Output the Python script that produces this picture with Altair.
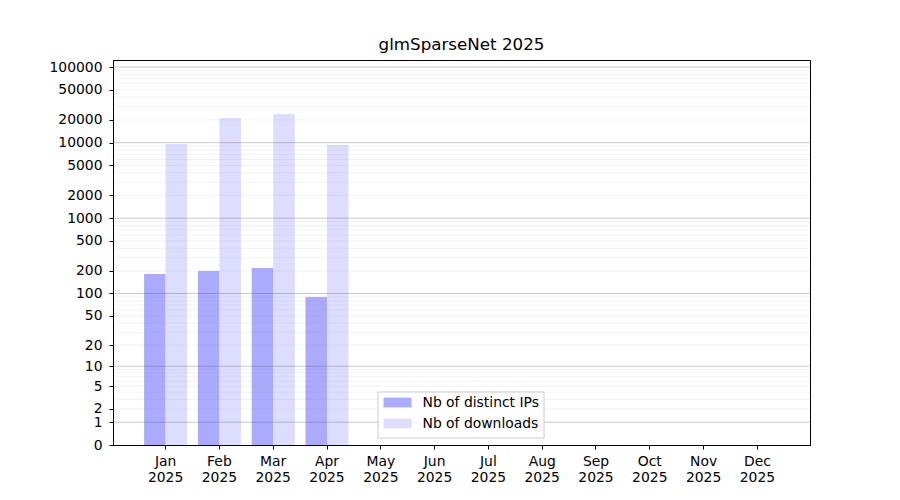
import altair as alt
import pandas as pd

months = ["Jan", "Feb", "Mar", "Apr", "May", "Jun", "Jul", "Aug", "Sep", "Oct", "Nov", "Dec"]
data_months = ["Jan", "Feb", "Mar", "Apr"]
ips = [182, 199, 218, 90]
downloads = [9580, 21150, 23900, 9300]
series = ["Nb of distinct IPs", "Nb of downloads"]
colors = ["#aaaaff", "#ddddff"]
y_ticks = [0, 1, 2, 5, 10, 20, 50, 100, 200, 500, 1000, 2000, 5000, 10000, 20000, 50000, 100000]
major_grid = [1, 10, 100, 1000, 10000, 100000]
minor_grid = [k * 10 ** d for d in range(0, 5) for k in range(2, 10)]

rows = []
for m, a, b in zip(data_months, ips, downloads):
    rows.append({"month": m, "series": series[0], "value": a})
    rows.append({"month": m, "series": series[1], "value": b})
df = pd.DataFrame(rows)

yscale = alt.Scale(type="symlog", constant=1, domain=[0, 124000], nice=False, zero=True)
y_axis = alt.Axis(
    title=None,
    values=y_ticks,
    format="d",
    grid=False,
    labelFontSize=13.9,
    labelColor="black",
    labelOverlap=False,
    tickSize=4,
    tickColor="black",
    domainColor="black",
    labelPadding=7,
)

bars = alt.Chart(df).mark_bar(opacity=1).encode(
    x=alt.X(
        "month:N",
        sort=months,
        scale=alt.Scale(domain=months, paddingInner=0.2, paddingOuter=0.578),
        axis=alt.Axis(
            title=None,
            labelAngle=0,
            labelExpr="[datum.label, '2025']",
            labelFontSize=13.9,
            labelColor="black",
            labelPadding=5,
            labelOverlap=False,
            tickSize=4,
            tickColor="black",
            domainColor="black",
            labelLineHeight=16,
        ),
    ),
    xOffset=alt.XOffset("series:N", sort=series, scale=alt.Scale(domain=series, paddingInner=0, paddingOuter=0)),
    y=alt.Y("value:Q", scale=yscale, axis=y_axis),
    color=alt.Color(
        "series:N",
        sort=series,
        scale=alt.Scale(domain=series, range=colors),
        legend=alt.Legend(
            title=None,
            orient="none",
            legendX=271.5,
            legendY=329.5,
            symbolType="M-2,-0.7H2V0.7H-2Z",
            symbolSize=196,
            symbolStrokeWidth=0,
            symbolOpacity=1,
            labelFontSize=13.9,
            labelColor="black",
            rowPadding=7,
            padding=6,
            labelOffset=18,
        ),
    ),
)

minor = alt.Chart(pd.DataFrame({"v": minor_grid})).mark_rule(
    color="#888888", strokeWidth=0.8, opacity=0.15
).encode(y=alt.Y("v:Q", scale=yscale, axis=y_axis))

major = alt.Chart(pd.DataFrame({"v": major_grid})).mark_rule(
    color="#555555", strokeWidth=0.8, opacity=0.4
).encode(y=alt.Y("v:Q", scale=yscale, axis=y_axis))

one = pd.DataFrame({"a": [0]})
frame_fill = alt.Chart(one).mark_bar(color="white", opacity=0.85).encode(
    x=alt.value(265), x2=alt.value(431), y=alt.value(332), y2=alt.value(378)
)
frame_top = alt.Chart(one).mark_rule(color="#cccccc", strokeWidth=1).encode(
    x=alt.value(265), x2=alt.value(431), y=alt.value(332)
)
frame_bottom = alt.Chart(one).mark_rule(color="#cccccc", strokeWidth=1).encode(
    x=alt.value(265), x2=alt.value(431), y=alt.value(378)
)
frame_left = alt.Chart(one).mark_rule(color="#cccccc", strokeWidth=1).encode(
    x=alt.value(265), y=alt.value(332), y2=alt.value(378)
)
frame_right = alt.Chart(one).mark_rule(color="#cccccc", strokeWidth=1).encode(
    x=alt.value(431), y=alt.value(332), y2=alt.value(378)
)

chart = alt.layer(
    bars, minor, major, frame_fill, frame_top, frame_bottom, frame_left, frame_right
).properties(
    width=697,
    height=385,
    autosize=alt.AutoSizeParams(type="none"),
    padding={"left": 105, "top": 52, "right": 80, "bottom": 47},
    title=alt.Title("glmSparseNet 2025", fontSize=16.7, fontWeight="normal", color="black", offset=6),
).configure(font="DejaVu Sans").configure_view(stroke="black", strokeWidth=1)

chart.save("out.html", embed_options={"renderer": "svg", "actions": False})
